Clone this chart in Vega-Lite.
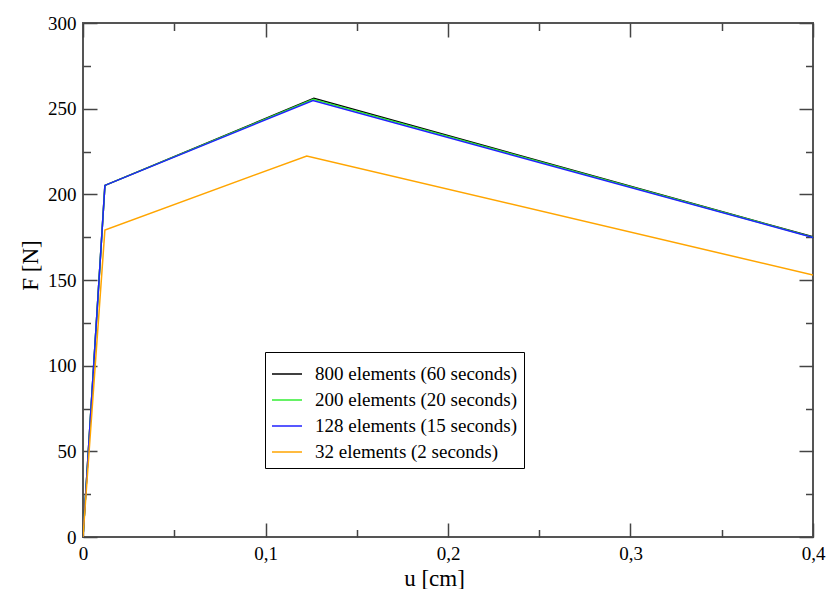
{
  "$schema": "https://vega.github.io/schema/vega-lite/v6.json",
  "width": 730,
  "height": 514,
  "autosize": {"type": "none"},
  "padding": {"left": 83, "top": 23, "right": 14, "bottom": 52},
  "background": "white",
  "config": {
    "view": {"stroke": "#555", "strokeWidth": 2},
    "font": "Liberation Serif, Tinos, Times New Roman, DejaVu Serif, serif"
  },
  "data": {
    "values": [
      {"series": "800 elements (60 seconds)", "u": 0, "F": 0},
      {"series": "800 elements (60 seconds)", "u": 0.012, "F": 205.2},
      {"series": "800 elements (60 seconds)", "u": 0.1265, "F": 256},
      {"series": "800 elements (60 seconds)", "u": 0.4, "F": 175.2},
      {"series": "200 elements (20 seconds)", "u": 0, "F": 0},
      {"series": "200 elements (20 seconds)", "u": 0.012, "F": 205.2},
      {"series": "200 elements (20 seconds)", "u": 0.1262, "F": 255.5},
      {"series": "200 elements (20 seconds)", "u": 0.4, "F": 175},
      {"series": "128 elements (15 seconds)", "u": 0, "F": 0},
      {"series": "128 elements (15 seconds)", "u": 0.012, "F": 205.2},
      {"series": "128 elements (15 seconds)", "u": 0.126, "F": 254.8},
      {"series": "128 elements (15 seconds)", "u": 0.4, "F": 174.8},
      {"series": "32 elements (2 seconds)", "u": 0, "F": 0},
      {"series": "32 elements (2 seconds)", "u": 0.012, "F": 179.2},
      {"series": "32 elements (2 seconds)", "u": 0.1226, "F": 222.4},
      {"series": "32 elements (2 seconds)", "u": 0.4, "F": 152.9}
    ]
  },
  "layer": [
    {
      "mark": {"type": "line", "strokeWidth": 1.5, "clip": true},
      "encoding": {
        "x": {
          "field": "u", "type": "quantitative",
          "scale": {"domain": [0, 0.4], "nice": false, "zero": false},
          "axis": {
            "orient": "bottom",
            "values": [0, 0.1, 0.2, 0.3, 0.4],
            "labelExpr": "datum.value == 0 ? '0' : replace(format(datum.value, '.1f'), '.', ',')",
            "tickSize": -14, "tickColor": "#444", "tickWidth": 1.5,
            "domain": false, "grid": false,
            "labelFont": "Liberation Serif, Tinos, Times New Roman, DejaVu Serif, serif", "labelFontSize": 19, "labelColor": "#000",
            "labelPadding": 21, "labelFlush": false,
            "title": "u [cm]", "titleFont": "Liberation Serif, Tinos, Times New Roman, DejaVu Serif, serif", "titleFontSize": 23,
            "titleFontWeight": "normal", "titleColor": "#000",
            "titleX": 351, "titleY": 48, "titleBaseline": "alphabetic", "titleAlign": "center"
          }
        },
        "y": {
          "field": "F", "type": "quantitative",
          "scale": {"domain": [0, 300], "nice": false},
          "axis": {
            "orient": "left",
            "values": [0, 50, 100, 150, 200, 250, 300],
            "tickSize": -14, "tickColor": "#444", "tickWidth": 1.5,
            "domain": false, "grid": false,
            "labelFont": "Liberation Serif, Tinos, Times New Roman, DejaVu Serif, serif", "labelFontSize": 19, "labelColor": "#000",
            "labelPadding": 21, "labelFlush": false,
            "title": "F [N]", "titleFont": "Liberation Serif, Tinos, Times New Roman, DejaVu Serif, serif", "titleFontSize": 23,
            "titleFontWeight": "normal", "titleColor": "#000",
            "titleX": -46, "titleY": 242, "titleBaseline": "alphabetic", "titleAlign": "center", "titleAngle": -90
          }
        },
        "color": {
          "field": "series", "type": "nominal",
          "scale": {
            "domain": ["800 elements (60 seconds)", "200 elements (20 seconds)", "128 elements (15 seconds)", "32 elements (2 seconds)"],
            "range": ["#000000", "#33ee33", "#2020ff", "#ffa500"]
          },
          "legend": {
            "orient": "none", "legendX": 182, "legendY": 329,
            "title": null,
            "symbolType": "stroke", "symbolSize": 900, "symbolStrokeWidth": 1.5,
            "labelFont": "Liberation Serif, Tinos, Times New Roman, DejaVu Serif, serif", "labelFontSize": 19, "labelColor": "#000",
            "labelOffset": 12, "labelLimit": 0, "rowPadding": 0,
            "strokeColor": "#000", "fillColor": "white", "padding": 6
          }
        }
      }
    },
    {
      "mark": {"type": "line", "strokeOpacity": 0},
      "encoding": {
        "x": {"field": "u", "type": "quantitative",
          "axis": {"orient": "top", "values": [0, 0.1, 0.2, 0.3, 0.4], "labels": false, "title": null, "domain": false, "grid": false, "tickSize": -14, "tickColor": "#444", "tickWidth": 1.5}},
        "y": {"field": "F", "type": "quantitative",
          "axis": {"orient": "right", "values": [0, 50, 100, 150, 200, 250, 300], "labels": false, "title": null, "domain": false, "grid": false, "tickSize": -14, "tickColor": "#444", "tickWidth": 1.5}}
      }
    },
    {
      "mark": {"type": "line", "strokeOpacity": 0},
      "encoding": {
        "x": {"field": "u", "type": "quantitative",
          "axis": {"orient": "bottom", "values": [0.05, 0.15, 0.25, 0.35], "labels": false, "title": null, "domain": false, "grid": false, "tickSize": -7.5, "tickColor": "#444", "tickWidth": 1.5}},
        "y": {"field": "F", "type": "quantitative",
          "axis": {"orient": "left", "values": [25, 75, 125, 175, 225, 275], "labels": false, "title": null, "domain": false, "grid": false, "tickSize": -7.5, "tickColor": "#444", "tickWidth": 1.5}}
      }
    },
    {
      "mark": {"type": "line", "strokeOpacity": 0},
      "encoding": {
        "x": {"field": "u", "type": "quantitative",
          "axis": {"orient": "top", "values": [0.05, 0.15, 0.25, 0.35], "labels": false, "title": null, "domain": false, "grid": false, "tickSize": -7.5, "tickColor": "#444", "tickWidth": 1.5}},
        "y": {"field": "F", "type": "quantitative",
          "axis": {"orient": "right", "values": [25, 75, 125, 175, 225, 275], "labels": false, "title": null, "domain": false, "grid": false, "tickSize": -7.5, "tickColor": "#444", "tickWidth": 1.5}}
      }
    }
  ],
  "resolve": {"axis": {"x": "independent", "y": "independent"}}
}
